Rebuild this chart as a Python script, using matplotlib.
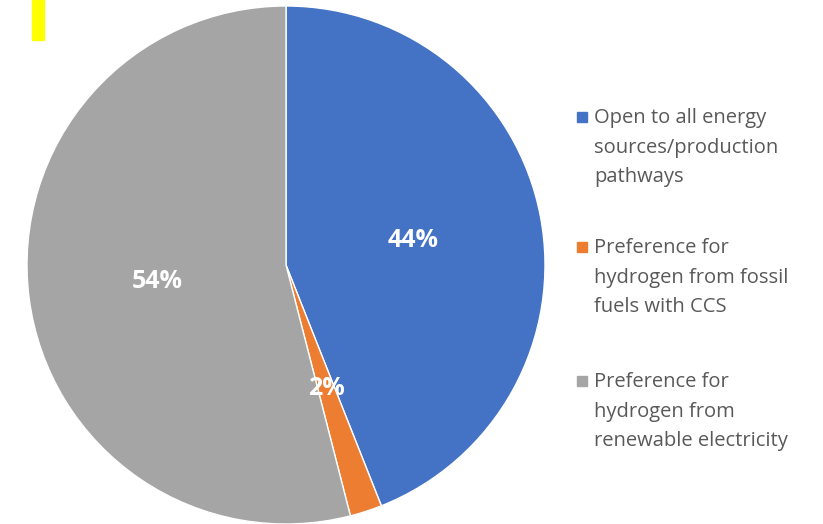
import matplotlib.pyplot as plt
from matplotlib.patches import Rectangle

labels = ["Open to all energy\nsources/production\npathways",
          "Preference for\nhydrogen from fossil\nfuels with CCS",
          "Preference for\nhydrogen from\nrenewable electricity"]
shares = [44, 2, 54]
colors = ["#4472C4", "#ED7D31", "#A5A5A5"]

W, H = 823, 524
fig = plt.figure(figsize=(W / 100, H / 100), dpi=100)

# pie centred at (286, 265) px, radius ~259 px
cx, cy, r = 286, 265, 259
ax = fig.add_axes([(cx - r) / W, (H - cy - r) / H, 2 * r / W, 2 * r / H])
wedges, _, autotexts = ax.pie(shares, colors=colors, startangle=90, counterclock=False,
                              autopct="%d%%", pctdistance=0.5, radius=1,
                              wedgeprops=dict(edgecolor="white", linewidth=1))
for t in autotexts:
    t.set_color("white")
    t.set_fontsize(18)
    t.set_fontweight("bold")
    t.set_family("Open Sans")
ax.set_xlim(-1, 1)
ax.set_ylim(-1, 1)
ax.set_aspect("equal")

# yellow tab in the top-left corner
fig.patches.append(Rectangle((32 / W, (H - 40) / H), 12 / W, 40 / H,
                             transform=fig.transFigure, color="#FFFF00"))

# legend entries: square marker + wrapped text
ys = [117, 247, 381]
for lab, c, y in zip(labels, colors, ys):
    fig.patches.append(Rectangle((577 / W, (H - y - 5) / H), 10 / W, 10 / H,
                                 transform=fig.transFigure, color=c))
    fig.text(594 / W, (H - y + 9) / H, lab, fontsize=14.5, color="#595959",
             family="Open Sans", va="top", linespacing=1.64)

fig.savefig("out.png", dpi=100)
